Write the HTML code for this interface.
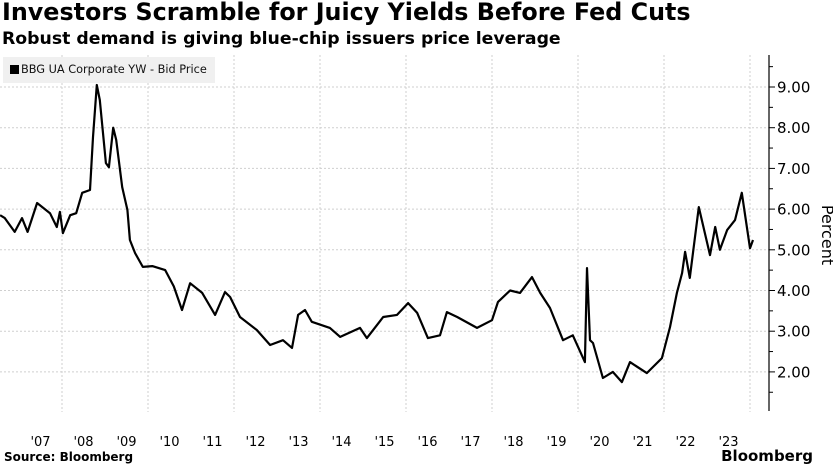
<!DOCTYPE html>
<html><head><meta charset="utf-8">
<style>
html,body{margin:0;padding:0;background:#fff;}
body{width:833px;height:466px;overflow:hidden;position:relative;font-family:"DejaVu Sans","Liberation Sans",sans-serif;}
#title{position:absolute;left:2px;top:-2px;font-size:23.8px;font-weight:bold;color:#000;white-space:nowrap;}
#subtitle{position:absolute;left:2px;top:29px;font-size:17.3px;font-weight:bold;color:#000;white-space:nowrap;}
#legend{position:absolute;left:3px;top:57px;width:212px;height:26px;background:#f0f0f0;font-size:11.3px;line-height:26px;color:#111;white-space:nowrap;}
#legend span.sw{display:inline-block;width:9px;height:9px;background:#000;margin:0 2px 0 7px;vertical-align:-1px;}
#source{position:absolute;left:4px;top:450px;font-size:12px;font-weight:bold;white-space:nowrap;}
#brand{position:absolute;right:20px;top:447px;font-size:15px;font-weight:bold;white-space:nowrap;}
svg{position:absolute;left:0;top:0;}
</style></head>
<body>
<div id="title">Investors Scramble for Juicy Yields Before Fed Cuts</div>
<div id="subtitle">Robust demand is giving blue-chip issuers price leverage</div>
<svg id="chart" width="833" height="466"></svg>
<div id="legend"><span class="sw"></span>BBG UA Corporate YW - Bid Price</div>
<div id="source">Source: Bloomberg</div>
<div id="brand">Bloomberg</div>
<script>
const dates=[2006.56,2006.67,2006.9,2007.07,2007.2,2007.42,2007.72,2007.88,2007.95,2008.02,2008.19,2008.33,2008.47,2008.65,2008.72,2008.81,2008.88,2009.02,2009.09,2009.19,2009.26,2009.4,2009.52,2009.58,2009.7,2009.88,2010.1,2010.4,2010.6,2010.79,2010.98,2011.26,2011.56,2011.79,2011.91,2012.14,2012.53,2012.84,2013.14,2013.35,2013.49,2013.65,2013.81,2014.23,2014.47,2014.93,2015.09,2015.47,2015.79,2016.05,2016.26,2016.51,2016.79,2016.95,2017.19,2017.65,2018.0,2018.14,2018.42,2018.65,2018.93,2019.12,2019.35,2019.65,2019.88,2020.16,2020.21,2020.28,2020.35,2020.58,2020.81,2021.02,2021.21,2021.6,2021.95,2022.14,2022.3,2022.42,2022.49,2022.6,2022.81,2023.07,2023.19,2023.3,2023.47,2023.65,2023.81,2024.0,2024.07];
const values=[5.85,5.78,5.44,5.78,5.44,6.15,5.9,5.56,5.93,5.41,5.85,5.9,6.4,6.47,7.77,9.05,8.68,7.13,7.03,8.0,7.7,6.54,5.98,5.24,4.92,4.58,4.6,4.5,4.1,3.52,4.18,3.94,3.4,3.96,3.84,3.35,3.03,2.66,2.78,2.59,3.4,3.52,3.23,3.08,2.86,3.08,2.83,3.35,3.4,3.69,3.45,2.83,2.9,3.47,3.35,3.08,3.27,3.72,4.0,3.94,4.33,3.94,3.57,2.78,2.9,2.24,4.55,2.78,2.71,1.85,2.0,1.75,2.24,1.97,2.34,3.1,3.94,4.43,4.95,4.31,6.05,4.87,5.56,5.0,5.49,5.73,6.4,5.04,5.24];
const yTicks=[2,3,4,5,6,7,8,9];
const yearLabels=["'07","'08","'09","'10","'11","'12","'13","'14","'15","'16","'17","'18","'19","'20","'21","'22","'23"];
const firstYear=2007;
const gridYears=[2008,2010,2012,2014,2016,2018,2020,2022,2024];

const NS='http://www.w3.org/2000/svg';
const svg=document.getElementById('chart');
const x=t=>62+(t-2008)*43;
const y=v=>87+(9-v)*40.7;
function mk(tag,attrs){const e=document.createElementNS(NS,tag);for(const k in attrs)e.setAttribute(k,attrs[k]);svg.appendChild(e);return e;}

yTicks.forEach(v=>{
  const g=mk('line',{x1:0,x2:769,y1:y(v),y2:y(v),stroke:'#cfcfcf','stroke-width':1,'stroke-dasharray':'2,2'});
  
  
  const t=mk('line',{x1:769,x2:775,y1:y(v),y2:y(v),stroke:'#000','stroke-width':1});
  
  
  const m=mk('line',{x1:769,x2:773,y1:y(v-0.5),y2:y(v-0.5),stroke:'#000','stroke-width':1});
  
  
  const l=mk('text',{x:777,y:y(v)+5.5,'font-size':15,fill:'#000','font-family':'DejaVu Sans, sans-serif'});
  l.textContent=v.toFixed(2);
  
  
});
[9.5].forEach(v=>{mk('line',{x1:769,x2:773,y1:y(v),y2:y(v),stroke:'#000','stroke-width':1});});
gridYears.forEach(yr=>{
  const g=mk('line',{x1:x(yr),x2:x(yr),y1:55,y2:412,stroke:'#cfcfcf','stroke-width':1,'stroke-dasharray':'2,2'});
  
  
});
const ax=mk('line',{x1:769,x2:769,y1:55,y2:411,stroke:'#000','stroke-width':1.2});


yearLabels.forEach((s,i)=>{
  const l=mk('text',{x:x(firstYear+i+0.5),y:446,'font-size':13,'text-anchor':'middle',fill:'#000','font-family':'DejaVu Sans, sans-serif'});
  l.textContent=s;
  
  
});
const yt=mk('text',{x:0,y:0,'font-size':16,'text-anchor':'middle',fill:'#000',transform:'translate(822,235) rotate(90)','font-family':'DejaVu Sans, sans-serif'});
yt.textContent='Percent';


const d=dates.map((t,i)=>(i?'L':'M')+x(t).toFixed(1)+','+y(values[i]).toFixed(1)).join(' ');
const p=mk('path',{d:d,fill:'none',stroke:'#000','stroke-width':2.2,'stroke-linejoin':'round'});


</script>
</body></html>
